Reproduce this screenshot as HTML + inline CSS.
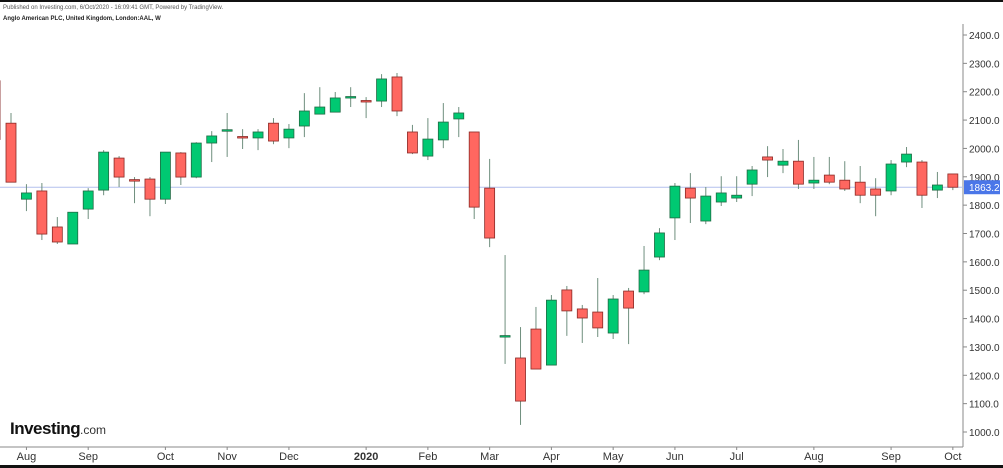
<!DOCTYPE html>
<html><head><meta charset="utf-8"><style>
body{margin:0;background:#fff;font-family:"Liberation Sans",sans-serif;}
#wrap{position:relative;width:1003px;height:468px;overflow:hidden;background:#fff;}
</style></head><body>
<div id="wrap">
<svg id="chart" width="1003" height="468">
<rect x="0" y="0" width="1003" height="2" fill="#111"/>
<rect x="0" y="465" width="1003" height="3" fill="#111"/>
<text x="3" y="9" font-size="6" fill="#555">Published on Investing.com, 6/Oct/2020 - 16:09:41 GMT, Powered by TradingView.</text>
<text x="3" y="20" font-size="6" font-weight="bold" fill="#222">Anglo American PLC, United Kingdom, London:AAL, W</text>
<g><text x="10" y="434" font-size="17" font-weight="bold" fill="#111" letter-spacing="-0.5">Investing</text><text x="80" y="434" font-size="12" fill="#333">.com</text></g>
<line x1="0" y1="447" x2="963" y2="447" stroke="#888" stroke-width="1"/>
<line x1="963" y1="24" x2="963" y2="447" stroke="#888" stroke-width="1"/>
<g id="yaxis"></g><g id="xaxis"></g><g id="cline"></g><g id="candles"></g><g id="lastlbl"></g>
</svg>
</div>
<script>
const opens=[2089,1821,1850,1723,1663,1786,1853,1966,1890,1892,1821,1984,1899,2019,2063,2042,2037,2089,2037,2079,2121,2128,2179,2169,2167,2252,2058,1973,2030,2104,2058,1860,1336,1261,1363,1236,1501,1434,1423,1349,1497,1494,1617,1755,1860,1744,1811,1825,1874,1970,1941,1955,1878,1906,1888,1881,1857,1850,1952,1952,1853,1910];
const highs=[2125,1874,1878,1758,1775,1860,1994,1973,1899,1899,1987,1987,2022,2061,2125,2068,2068,2107,2086,2195,2216,2199,2216,2181,2262,2266,2083,2107,2160,2146,2058,1963,1624,1370,1441,1483,1515,1448,1543,1483,1508,1656,1719,1878,1913,1864,1902,1902,1938,2008,1998,2030,1970,1970,1955,1938,1895,1959,2005,1959,1917,1910];
const lows=[1881,1779,1677,1663,1663,1751,1835,1864,1807,1761,1804,1871,1895,1952,1970,1998,1994,2015,2001,2040,2121,2128,2146,2107,2146,2114,1980,1959,2001,2040,1751,1652,1240,1025,1222,1236,1339,1314,1335,1328,1310,1486,1606,1677,1737,1733,1797,1811,1832,1899,1913,1857,1857,1874,1850,1807,1761,1835,1934,1790,1825,1853];
const closes=[1881,1843,1698,1670,1775,1850,1987,1899,1888,1821,1987,1899,2019,2044,2066,2039,2058,2026,2068,2132,2146,2178,2183,2166,2245,2132,1984,2033,2093,2125,1793,1684,1340,1109,1222,1465,1427,1402,1367,1469,1437,1571,1702,1867,1825,1832,1843,1835,1924,1959,1955,1874,1888,1881,1857,1835,1835,1945,1980,1835,1871,1863.2];
const yTicks=[2400,2300,2200,2100,2000,1900,1800,1700,1600,1500,1400,1300,1200,1100,1000];
const xLabels=["Aug","Sep","Oct","Nov","Dec","2020","Feb","Mar","Apr","May","Jun","Jul","Aug","Sep","Oct"];
const xLabelIdx=[1,5,10,14,18,23,27,31,35,39,43,47,52,57,61];
const lastPrice=1863.2;

const NS="http://www.w3.org/2000/svg";
const y=v=>35+(2400-v)*(397/1400);
const x=i=>11+i*15.44;
function mk(t,a,p){const e=document.createElementNS(NS,t);for(const k in a)e.setAttribute(k,a[k]);p.appendChild(e);return e;}
const ya=document.getElementById('yaxis');
yTicks.forEach(v=>{
  const l=mk('line',{x1:963,x2:967,y1:y(v),y2:y(v),stroke:'#888'},ya);
  
  
  const t=mk('text',{x:969,y:y(v)+4,'font-size':10,fill:'#333'},ya);
  t.textContent=v.toFixed(1);
  
  
});
const xa=document.getElementById('xaxis');
xLabels.forEach((s,k)=>{
  const cx=x(xLabelIdx[k]);
  const l=mk('line',{x1:cx,x2:cx,y1:447,y2:450,stroke:'#888'},xa);
  
  
  const t=mk('text',{x:cx,y:460,'font-size':11,fill:'#333','text-anchor':'middle','font-weight':s==='2020'?'bold':'normal'},xa);
  t.textContent=s;
  
  
});
const cl=document.getElementById('cline');
const pl=mk('line',{x1:0,x2:963,y1:y(lastPrice),y2:y(lastPrice),stroke:'#b3c0ee','stroke-width':1},cl);


const cg=document.getElementById('candles');
mk('line',{x1:0.5,x2:0.5,y1:y(2240),y2:y(2030),stroke:'#c9a0a0'},cg);
opens.forEach((o,i)=>{
  const c=closes[i],up=c>=o,cx=x(i);
  const g=mk('g',{},cg);
  
  
  mk('line',{x1:cx,x2:cx,y1:y(highs[i]),y2:y(lows[i]),stroke:'#6f8f7e','stroke-width':1},g);
  const top=y(Math.max(o,c)),h=Math.max(1.5,y(Math.min(o,c))-top);
  mk('rect',{x:cx-5,y:top,width:10,height:h,fill:up?'#00c972':'#ff6760',stroke:up?'#1f6b44':'#8b2a26','stroke-width':0.8},g);
});
const ll=document.getElementById('lastlbl');
const r=mk('rect',{x:964,y:y(lastPrice)-7,width:36,height:14,fill:'#4a76e8'},ll);


const lt=mk('text',{x:969,y:y(lastPrice)+4,'font-size':10,fill:'#fff'},ll);
lt.textContent=lastPrice.toFixed(1);


</script>
</body></html>
